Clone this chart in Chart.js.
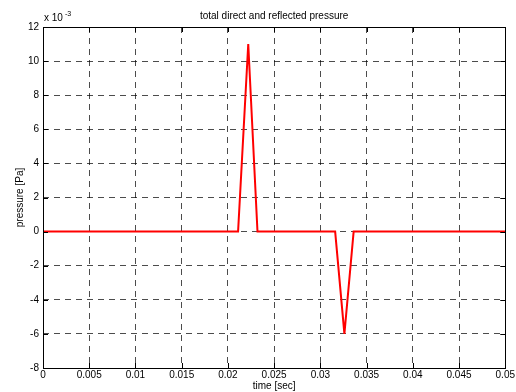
<!DOCTYPE html>
<html>
<head>
<meta charset="utf-8">
<script src="https://cdn.jsdelivr.net/npm/chart.js@4"></script>
<style>
  html, body { margin: 0; padding: 0; background: #fff; }
  #wrap { width: 516px; height: 392px; }
</style>
</head>
<body>
<div id="wrap"><canvas id="plot"></canvas></div>
<script>
// time [sec] and pressure [Pa]
const timeSec = [0, 0.0211, 0.0222, 0.0232, 0.0316, 0.0326, 0.0336, 0.05];
const pressurePa = [0, 0, 0.011, 0, 0, -0.006, 0, 0];
const xTicks = [0, 0.005, 0.01, 0.015, 0.02, 0.025, 0.03, 0.035, 0.04, 0.045, 0.05];
const yTicks = [-8, -6, -4, -2, 0, 2, 4, 6, 8, 10, 12]; // x 10^-3

const FONT = 'Liberation Sans, Arial, sans-serif';

// box, inward tick marks, title and exponent label
const matlabBox = {
  id: 'matlabBox',
  afterDraw(chart) {
    const c = chart.ctx;
    const a = chart.chartArea;
    const xs = chart.scales.x, ys = chart.scales.y;
    c.save();
    c.strokeStyle = '#000';
    c.lineWidth = 1;
    c.setLineDash([]);
    c.beginPath();
    xTicks.forEach(t => {
      const px = Math.round(xs.getPixelForValue(t)) + 0.5;
      c.moveTo(px, a.bottom); c.lineTo(px, a.bottom - 5);
      c.moveTo(px, a.top); c.lineTo(px, a.top + 5);
    });
    yTicks.forEach(t => {
      const py = Math.round(ys.getPixelForValue(t / 1000)) + 0.5;
      c.moveTo(a.left, py); c.lineTo(a.left + 5, py);
      c.moveTo(a.right, py); c.lineTo(a.right - 5, py);
    });
    c.stroke();
    c.strokeRect(Math.round(a.left) + 0.5, Math.round(a.top) + 0.5,
      Math.round(a.right - a.left), Math.round(a.bottom - a.top));

    c.fillStyle = '#000';
    c.font = '10px ' + FONT;
    c.textAlign = 'center';
    c.textBaseline = 'alphabetic';
    c.fillText('total direct and reflected pressure', (a.left + a.right) / 2, 19);
    c.textAlign = 'left';
    c.fillText('x 10', a.left + 1, 21);
    c.font = '7px ' + FONT;
    c.fillText('-3', a.left + 22, 16);
    c.restore();
  }
};

const chart = new Chart(document.getElementById('plot'), {
  type: 'line',
  data: {
    datasets: [{
      data: timeSec.map((t, i) => ({ x: t, y: pressurePa[i] })),
      borderColor: '#ff0000',
      borderWidth: 2,
      pointRadius: 0,
      tension: 0,
      fill: false
    }]
  },
  options: {
    responsive: true,
    maintainAspectRatio: false,
    animation: false,
    layout: { padding: { top: 27, right: 9, left: 0, bottom: 0 } },
    plugins: { legend: { display: false }, tooltip: { enabled: false } },
    scales: {
      x: {
        type: 'linear',
        min: 0, max: 0.05,
        afterBuildTicks: s => { s.ticks = xTicks.map(v => ({ value: v })); },
        afterFit: s => { s.height = 24; },
        ticks: {
          color: '#000', font: { family: FONT, size: 10 }, padding: 1,
          maxRotation: 0, autoSkip: false,
          callback: v => String(+v.toFixed(3))
        },
        grid: { color: 'rgba(0,0,0,0.7)', drawTicks: false, tickLength: 0 },
        border: { display: false, dash: [6, 5] },
        title: {
          display: true, text: 'time [sec]', color: '#000',
          font: { family: FONT, size: 10 }, padding: { top: 0, bottom: 0 }
        }
      },
      y: {
        type: 'linear',
        min: -0.008, max: 0.012,
        afterBuildTicks: s => { s.ticks = yTicks.map(v => ({ value: v / 1000 })); },
        afterFit: s => { s.width = 43; },
        ticks: {
          color: '#000', font: { family: FONT, size: 10 }, padding: 4,
          autoSkip: false,
          callback: v => String(Math.round(v * 1000))
        },
        grid: { color: 'rgba(0,0,0,0.7)', drawTicks: false, tickLength: 0 },
        border: { display: false, dash: [6, 5] },
        title: {
          display: true, text: 'pressure [Pa]', color: '#000',
          font: { family: FONT, size: 10 }, padding: { top: 14, bottom: 0 }
        }
      }
    }
  },
  plugins: [matlabBox]
});
</script>
</body>
</html>
